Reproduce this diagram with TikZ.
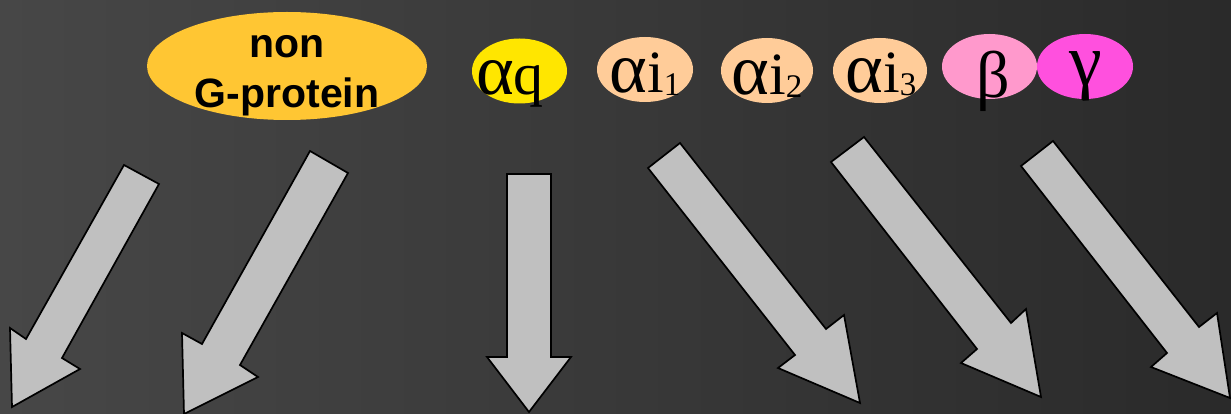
\documentclass[tikz,border=0pt]{standalone}
\usepackage{fontspec}
\setmainfont{Liberation Serif}
\newfontfamily\headsans{Liberation Sans}
\usetikzlibrary{shapes.geometric}
\definecolor{bgleft}{RGB}{71,71,71}
\definecolor{bgright}{RGB}{42,42,42}
\definecolor{nongold}{RGB}{255,198,51}
\definecolor{qyellow}{RGB}{255,230,0}
\definecolor{ipeach}{RGB}{255,204,153}
\definecolor{bpink}{RGB}{255,153,204}
\definecolor{gmagenta}{RGB}{255,80,222}
\definecolor{arrowgray}{RGB}{192,192,192}
\tikzset{
	subunit/.style={ellipse, inner sep=0pt, minimum width=95pt, minimum height=65pt},
	greek/.style={inner sep=0pt, font=\fontsize{60}{60}\selectfont},
	blockarrow/.style={draw=black, line width=1.7pt, fill=arrowgray, line join=miter},
}
% wider alpha, and small lowered index after the i
\newcommand{\bigalpha}{{\fontsize{72}{72}\selectfont α}}
\newcommand{\idx}[1]{\raisebox{-3pt}{\fontsize{33}{33}\selectfont #1}}

\begin{document}
\begin{tikzpicture}[x=1pt, y=-1pt]
	% Background
	\useasboundingbox (0,0) rectangle (1231,414);
	\fill[left color=bgleft, right color=bgright] (0,0) rectangle (1231,414);
	% Non G-protein
	\node[ellipse, fill=nongold, inner sep=0pt, minimum width=280pt, minimum height=108pt] (nongp) at (287,66) {};
	\node[anchor=base, align=center, inner sep=0pt, font=\headsans\bfseries\fontsize{41}{50}\selectfont] (nongp-text) at (287,108) {non\\G-protein};
	% G-protein subunits
	\node[subunit, fill=qyellow] (aq) at (519.5,71) {};
	\node[subunit, fill=ipeach, minimum width=96pt] (ai1) at (645,69.5) {};
	\node[subunit, fill=ipeach, minimum width=92pt] (ai2) at (767,70.5) {};
	\node[subunit, fill=ipeach, minimum width=94pt] (ai3) at (880,70.5) {};
	\node[subunit, fill=bpink] (beta) at (989.5,66.5) {};
	\node[subunit, fill=gmagenta, minimum width=96pt] (gamma) at (1085,66.5) {};
	\node[greek, anchor=base] (aq-text) at ([xshift=-9.5pt, yshift=-24pt]aq.center) {\bigalpha q};
	\node[greek, anchor=base] (ai1-text) at ([yshift=-23.5pt]ai1.center) {\bigalpha i\idx{1}};
	\node[greek, anchor=base] (ai2-text) at ([yshift=-24pt]ai2.center) {\bigalpha i\idx{2}};
	\node[greek, anchor=base] (ai3-text) at ([xshift=1pt, yshift=-22pt]ai3.center) {\bigalpha i\idx{3}};
	\node[greek, font=\fontsize{66}{66}\selectfont] (beta-text) at ([xshift=4pt, yshift=-15pt]beta.center) {β};
	\node[greek, font=\fontsize{74}{74}\selectfont] (gamma-text) at ([xshift=1pt, yshift=-10pt]gamma.center) {γ};
	% Block arrows
	\draw[blockarrow] (124,165) -- (159,184) -- (62,358) -- (80,369) -- (12,407) -- (10,328) -- (26,339) -- cycle;
	\draw[blockarrow] (310,151) -- (348,173) -- (240,365) -- (258,377) -- (184,414) -- (182,333) -- (202,344) -- cycle;
	\draw[blockarrow] (507,174) -- (551,174) -- (551,357) -- (571,357) -- (529,412) -- (487,357) -- (507,357) -- cycle;
	\draw[blockarrow] (648,168) -- (680,143) -- (826,329) -- (844,315) -- (860,403) -- (778,368) -- (795,355) -- cycle;
	\draw[blockarrow] (831,162) -- (864,137) -- (1011,323) -- (1026,309) -- (1041,397) -- (961,363) -- (977,349) -- cycle;
	\draw[blockarrow] (1021,166) -- (1053,141) -- (1199,327) -- (1217,313) -- (1230,398) -- (1151,367) -- (1167,353) -- cycle;
\end{tikzpicture}
\end{document}
